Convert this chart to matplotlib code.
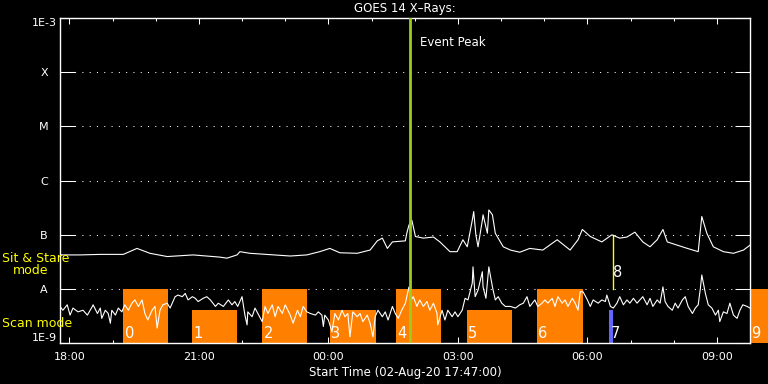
import matplotlib
matplotlib.use('Agg')
import matplotlib.pyplot as plt
from matplotlib.patches import Rectangle
import numpy as np

plt.rcParams['font.family'] = 'DejaVu Sans'

# time in minutes after 18:00 (02-Aug-20), flux as log10(W/m^2)
long_t = [-13, 15, 43, 75, 94, 112, 136, 172, 209, 219, 233, 237, 251, 307, 330, 348, 362, 376,
          400, 418, 428, 435, 442, 449, 467, 469, 472, 476, 481, 492, 506, 515, 529, 539, 547,
          553, 560, 562, 565, 568, 574, 575, 581, 583, 588, 592, 603, 613, 626, 640, 658, 678,
          696, 707, 713, 724, 740, 754, 765, 775, 786, 797, 807, 817, 825, 831, 845, 859, 874,
          879, 886, 895, 909, 923, 937, 946]
long_logf = [-7.37, -7.37, -7.36, -7.36, -7.25, -7.34, -7.40, -7.37, -7.41, -7.43, -7.37, -7.31,
             -7.34, -7.39, -7.37, -7.31, -7.25, -7.33, -7.34, -7.28, -7.11, -7.06, -7.25, -7.13,
             -7.11, -6.97, -6.82, -6.73, -7.03, -7.06, -7.04, -7.13, -7.31, -7.31, -7.09, -7.22,
             -6.73, -6.57, -7.00, -7.22, -6.73, -6.63, -6.97, -6.54, -6.63, -6.97, -7.22, -7.28,
             -7.32, -7.25, -7.28, -7.09, -7.28, -7.09, -6.90, -7.03, -7.13, -7.00, -7.06, -7.04,
             -6.95, -7.13, -7.22, -7.09, -6.90, -7.13, -7.19, -7.25, -7.31, -6.66, -6.97, -7.22,
             -7.31, -7.34, -7.28, -7.19]

short_t = [-13, -9, -3, 1, 5, 12, 19, 25, 32, 33, 39, 43, 45, 50, 54, 57, 59, 64, 68, 73, 77, 82,
           87, 91, 96, 101, 105, 109, 115, 119, 122, 126, 130, 136, 140, 147, 151, 157, 161, 165,
           171, 175, 179, 186, 191, 196, 203, 207, 214, 221, 226, 230, 234, 240, 244, 247, 248,
           254, 258, 262, 268, 272, 276, 282, 286, 290, 296, 300, 307, 311, 317, 321, 325, 330,
           335, 342, 346, 351, 353, 355, 360, 365, 369, 374, 379, 383, 387, 390, 394, 400, 404,
           408, 414, 418, 422, 425, 429, 435, 439, 443, 449, 453, 457, 462, 467, 469, 472, 475,
           478, 483, 487, 492, 497, 501, 506, 511, 512, 518, 522, 526, 532, 536, 540, 546, 550,
           554, 560, 561, 564, 568, 574, 575, 579, 583, 588, 592, 596, 601, 606, 613, 620, 626,
           631, 636, 640, 647, 651, 657, 661, 665, 671, 675, 679, 685, 689, 693, 699, 703, 707,
           710, 714, 720, 724, 728, 735, 740, 745, 747, 752, 756, 761, 765, 770, 775, 779, 784,
           789, 793, 797, 803, 807, 811, 817, 821, 825, 828, 832, 838, 842, 846, 852, 856, 860,
           866, 870, 874, 877, 879, 884, 888, 893, 898, 902, 904, 909, 914, 918, 923, 928, 932,
           936, 942, 946]
short_logf = [-8.32, -8.39, -8.29, -8.48, -8.35, -8.42, -8.39, -8.48, -8.32, -8.29, -8.45, -8.35,
              -8.54, -8.39, -8.45, -8.63, -8.39, -8.48, -8.35, -8.42, -8.29, -8.39, -8.26, -8.20,
              -8.32, -8.20, -8.45, -8.57, -8.39, -8.32, -8.72, -8.39, -8.29, -8.26, -8.35, -8.14,
              -8.11, -8.14, -8.08, -8.20, -8.14, -8.17, -8.23, -8.17, -8.14, -8.20, -8.32, -8.26,
              -8.32, -8.20, -8.29, -8.23, -8.32, -8.14, -8.48, -8.66, -8.42, -8.51, -8.35, -8.45,
              -8.60, -8.32, -8.45, -8.29, -8.51, -8.32, -8.45, -8.29, -8.48, -8.63, -8.39, -8.51,
              -8.32, -8.42, -8.45, -8.48, -8.42, -8.48, -8.69, -8.48, -8.57, -8.79, -8.45, -8.57,
              -8.39, -8.51, -8.45, -8.88, -8.42, -8.51, -8.45, -8.60, -8.48, -8.63, -8.88, -8.51,
              -8.39, -8.51, -8.42, -8.57, -8.32, -8.45, -8.54, -8.39, -8.26, -8.14, -7.96, -8.20,
              -8.14, -8.32, -8.20, -8.32, -8.23, -8.39, -8.26, -8.45, -8.66, -8.39, -8.57, -8.39,
              -8.51, -8.42, -8.51, -8.39, -8.17, -8.20, -7.89, -7.59, -8.14, -8.02, -7.68, -7.96,
              -8.17, -7.59, -7.96, -8.20, -8.14, -8.26, -8.32, -8.32, -8.35, -8.29, -8.26, -8.14,
              -8.32, -8.20, -8.32, -8.26, -8.20, -8.26, -8.17, -8.32, -8.14, -8.26, -8.20, -8.32,
              -8.17, -8.26, -8.39, -8.05, -8.05, -8.20, -8.32, -8.20, -8.26, -8.20, -8.23, -8.11,
              -8.32, -8.35, -8.26, -8.14, -8.29, -8.20, -8.26, -8.17, -8.26, -8.20, -8.14, -8.29,
              -8.17, -8.32, -8.20, -8.26, -7.96, -8.23, -8.32, -8.39, -8.26, -8.35, -8.20, -8.14,
              -8.32, -8.45, -8.35, -8.29, -7.99, -7.74, -8.08, -8.29, -8.35, -8.48, -8.39, -8.60,
              -8.42, -8.45, -8.26, -8.48, -8.54, -8.39, -8.29, -8.32, -8.35]

# observation blocks: start/end minutes, top (log10 flux), colour, label
obs_start = [75, 171, 268, 362, 454, 552, 650, 750, 946]
obs_end = [137, 233, 330, 426, 517, 615, 714, 755, 975]
obs_top = [-8.0, -8.38, -8.0, -8.38, -8.0, -8.38, -8.0, -8.38, -8.0]
obs_color = ['#ff8000'] * 7 + ['#6464ff', '#ff8000']
obs_label = ['0', '1', '2', '3', '4', '5', '6', '7', '9']
stare_t = 755
stare_range = [-8.0, -7.0]
peak_t = 474

xticks = [0, 180, 360, 540, 720, 900]
xtick_labels = ['18:00', '21:00', '00:00', '03:00', '06:00', '09:00']
ytick_labels = ['1E-9', 'A', 'B', 'C', 'M', 'X', '1E-3']

fig = plt.figure(figsize=(7.68, 3.84), dpi=100, facecolor='black')
ax = fig.add_axes([60/768, 1 - 343.3/384, 690/768, 325.3/384])
ax.set_facecolor('black')
ax.set_yscale('log')
ax.set_xlim(-13, 946)
ax.set_ylim(1e-9, 1e-3)

for lvl in [1e-8, 1e-7, 1e-6, 1e-5, 1e-4]:
    ax.axhline(lvl, color='white', lw=0.75, linestyle=(0, (1, 6)), zorder=1)

for s, e, top, c in zip(obs_start, obs_end, obs_top, obs_color):
    ax.add_patch(Rectangle((s, 1e-9), e - s, 10**top - 1e-9, facecolor=c,
                           edgecolor='none', zorder=2, clip_on=False))
for s, lab in zip(obs_start, obs_label):
    xt = s + 2 if lab != '7' else s + 3
    ax.text(xt, 1.12e-9, lab, color='white', fontsize=10.5, ha='left', va='bottom',
            zorder=5, clip_on=False)

ax.plot([stare_t, stare_t], [10**stare_range[0], 10**stare_range[1]], color='yellow', lw=1, zorder=3)
ax.text(stare_t + 1, 10**-7.69, '8', color='white', fontsize=10.5, ha='left', va='center', zorder=5)

ax.plot(long_t, 10**np.array(long_logf), color='white', lw=0.8, zorder=4)
ax.plot(short_t, 10**np.array(short_logf), color='white', lw=0.8, zorder=4)

ax.axvline(peak_t, color='#9acd1e', lw=2.0, zorder=6)
ax.text(peak_t + 14, 10**-3.46, 'Event Peak', color='white', fontsize=8.5, ha='left', va='center')

for sp in ax.spines.values():
    sp.set_color('white')
    sp.set_linewidth(1.0)

ax.set_xticks(xticks)
ax.set_xticklabels(xtick_labels)
ax.set_xticks(np.arange(0, 946, 60), minor=True)
ax.set_yticks([10.0**k for k in range(-9, -2)])
ax.set_yticklabels(ytick_labels)
ax.yaxis.set_minor_locator(matplotlib.ticker.NullLocator())
ax.tick_params(axis='x', which='major', direction='in', length=4.3, width=0.75, color='white',
               top=True, bottom=True, labelcolor='white', labelsize=8, pad=6)
ax.tick_params(axis='x', which='minor', direction='in', length=2.2, width=0.75, color='white',
               top=True, bottom=True)
ax.tick_params(axis='y', which='major', direction='in', length=10.5, width=0.75, color='white',
               left=True, right=True, labelcolor='white', labelsize=8, pad=11.5)
ylbls = ax.get_yticklabels()
for lbl in ylbls:
    lbl.set_horizontalalignment('center')
# end labels stay inside the axis range
ylbls[0].set_verticalalignment('bottom')
ylbls[-1].set_verticalalignment('top')

ax.set_xlabel('Start Time (02-Aug-20 17:47:00)', color='white', fontsize=8.5, labelpad=3)
ax.set_title('GOES 14 X\u2013Rays:', color='white', fontsize=8.5, pad=4)

fig.text(2/768, 1 - 258/384, 'Sit & Stare', color='yellow', fontsize=9, ha='left', va='center')
fig.text(13/768, 1 - 271/384, 'mode', color='yellow', fontsize=9, ha='left', va='center')
fig.text(2/768, 1 - 323.5/384, 'Scan mode', color='yellow', fontsize=9, ha='left', va='center')

fig.savefig('out.png', dpi=100, facecolor='black')
